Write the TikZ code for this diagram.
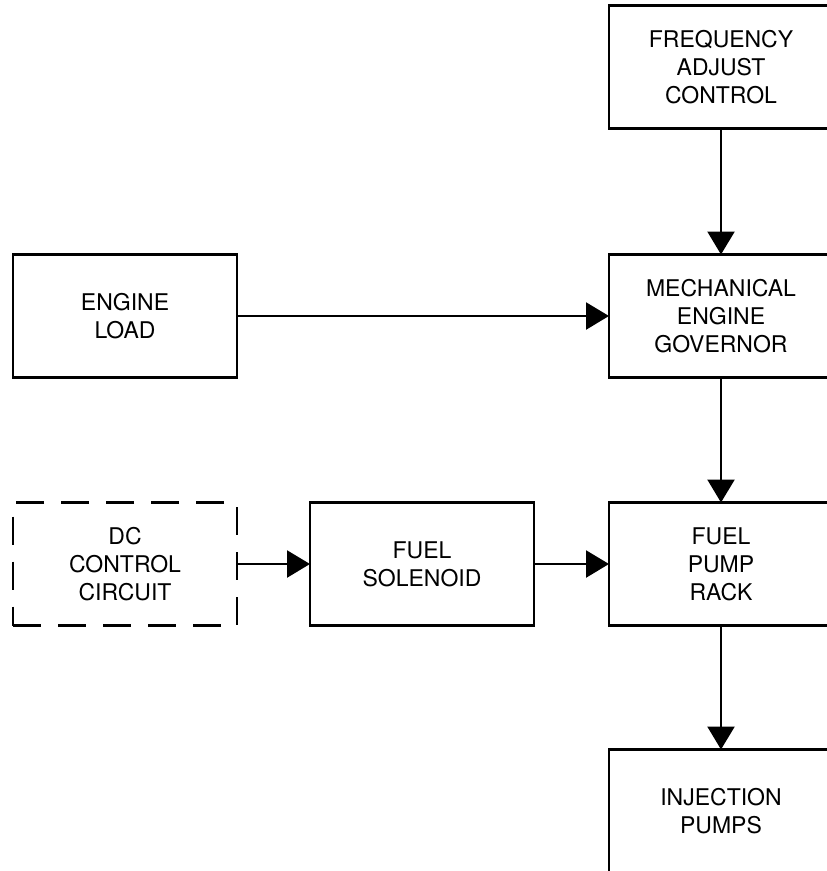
\documentclass[tikz,border=0pt]{standalone}
\usepackage{fontspec}
\setmainfont{TeX Gyre Heros}
\usetikzlibrary{positioning,arrows.meta}

\begin{document}
\begin{tikzpicture}[x=1pt,y=1pt,
   blk/.style={draw=black,line width=2.4pt,minimum width=224pt,minimum height=123pt,
      inner sep=0pt,outer sep=0pt,align=center,font=\fontsize{23}{28}\selectfont},
   dashblk/.style={blk,dash pattern=on 28pt off 17pt},
   flow/.style={line width=2.4pt,-{Triangle[length=23pt,width=27pt]}}]
      \useasboundingbox (0,0) rectangle (827,-871);

      \node[blk,name=freq] at (721,-67) {FREQUENCY\\ADJUST\\CONTROL};
      \node[blk,name=gov, below=126pt of freq] {MECHANICAL\\ENGINE\\GOVERNOR};
      \node[blk,name=rack, below=125pt of gov] {FUEL\\PUMP\\RACK};
      \node[blk,name=inj, below=124pt of rack] {INJECTION\\PUMPS};
      \node[blk,name=load, left=372pt of gov] {ENGINE\\LOAD};
      \node[blk,name=sol, left=75pt of rack] {FUEL\\SOLENOID};
      \node[dashblk,name=dc, left=73pt of sol] {DC\\CONTROL\\CIRCUIT};

      \path[flow]
         (freq) edge (gov)
         (gov) edge (rack)
         (rack) edge (inj)
         (load) edge (gov)
         (dc) edge (sol)
         (sol) edge (rack);
   \end{tikzpicture}
\end{document}
